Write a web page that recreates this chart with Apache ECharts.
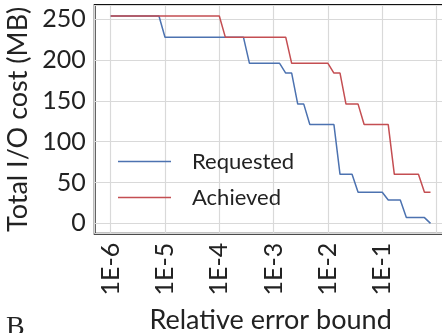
<!DOCTYPE html>
<html>
<head>
<meta charset="utf-8">
<script src="https://cdn.jsdelivr.net/npm/echarts@6/dist/echarts.min.js"></script>
<style>
  html, body { margin: 0; padding: 0; background: #fff; }
  #chart { width: 442px; height: 333px; }
</style>
</head>
<body>
<div id="chart"></div>
<script>
// Error bounds (x) and total I/O cost in MB (y) at each corner of the curves
const requestedBound = [1e-6, 7.74e-6, 1e-5, 2.78e-4, 3.59e-4, 1.29e-3, 1.67e-3, 2.15e-3, 2.78e-3, 3.59e-3, 4.64e-3,
  1.29e-2, 1.67e-2, 2.78e-2, 3.59e-2, 1e-1, 1.29e-1, 2.15e-1, 2.78e-1, 5.99e-1, 7.74e-1];
const requestedCost = [254, 254, 228, 228, 196, 196, 184, 184, 146, 146, 121,
  121, 60, 60, 38, 38, 28.5, 28.5, 7, 7, 0];

const achievedBound = [1e-6, 1e-4, 1.29e-4, 1.67e-3, 2.15e-3, 1e-2, 1.29e-2, 1.67e-2, 2.15e-2, 3.59e-2, 4.64e-2,
  1.29e-1, 1.67e-1, 4.64e-1, 5.99e-1, 7.74e-1];
const achievedCost = [254, 254, 228, 228, 196, 196, 184, 184, 146, 146, 121,
  121, 60, 60, 38, 38];

const seriesNames = ['Requested', 'Achieved'];
const seriesColors = ['#4c72b0', '#c44e52'];
const yTicks = [0, 50, 100, 150, 200, 250];
const xTickExponents = [-6, -5, -4, -3, -2, -1];

const FONT = 'Lato';
const TEXT = '#222';

const zip = (xs, ys) => xs.map((x, i) => [x, ys[i]]);

const chart = echarts.init(document.getElementById('chart'), null, { renderer: 'canvas' });

chart.setOption({
  animation: false,
  textStyle: { fontFamily: FONT },
  grid: {
    left: 94.7, top: 5, right: -4.5, bottom: 99.3,
    containLabel: false, outerBoundsMode: 'none',
    show: true, borderColor: '#111', borderWidth: 2, backgroundColor: 'transparent'
  },
  legend: {
    orient: 'vertical',
    left: 113, top: 144,
    itemWidth: 53, itemHeight: 1.6, itemGap: 11,
    textStyle: { fontFamily: FONT, fontSize: 22, lineHeight: 25, color: TEXT, padding: [0, 0, 0, 16] },
    data: seriesNames.map(n => ({ name: n, icon: 'rect' }))
  },
  xAxis: {
    type: 'log', logBase: 10,
    min: 5.077e-7, max: 1.525,
    name: 'Relative error bound',
    nameLocation: 'middle', nameGap: 73,
    nameTextStyle: { fontFamily: FONT, fontSize: 27, color: TEXT },
    axisLine: { show: false },
    axisTick: { show: false },
    axisLabel: {
      rotate: 90, margin: 9, fontFamily: FONT, fontSize: 25, color: TEXT,
      showMinLabel: false, showMaxLabel: false,
      formatter: v => {
        const e = Math.round(Math.log10(v));
        if (Math.abs(Math.log10(v) - e) > 1e-6) return '';
        return xTickExponents.includes(e) ? '1E' + e : '';
      }
    },
    splitLine: { show: true, lineStyle: { color: '#d9d9d9', width: 1.2 } }
  },
  yAxis: {
    type: 'value',
    min: -12.7, max: 267.4, splitNumber: 5,
    name: 'Total I/O cost (MB)',
    nameLocation: 'middle', nameGap: 60,
    nameTextStyle: { fontFamily: FONT, fontSize: 27, color: TEXT },
    axisLine: { show: false },
    axisTick: { show: false },
    axisLabel: {
      margin: 9, fontFamily: FONT, fontSize: 25, color: TEXT,
      showMinLabel: false, showMaxLabel: false,
      formatter: v => (yTicks.includes(v) ? String(v) : '')
    },
    splitLine: { show: true, lineStyle: { color: '#d9d9d9', width: 1.2 } }
  },
  series: [
    {
      name: seriesNames[0], type: 'line', symbol: 'none',
      lineStyle: { color: seriesColors[0], width: 1.5 }, itemStyle: { color: seriesColors[0] },
      data: zip(requestedBound, requestedCost)
    },
    {
      name: seriesNames[1], type: 'line', symbol: 'none',
      lineStyle: { color: seriesColors[1], width: 1.5 }, itemStyle: { color: seriesColors[1] },
      data: zip(achievedBound, achievedCost)
    }
  ],
  graphic: [
    {
      type: 'text', left: 6, top: 314,
      style: { text: 'B', font: '28px "Liberation Serif"', fill: '#222' }
    }
  ]
});
</script>
</body>
</html>
